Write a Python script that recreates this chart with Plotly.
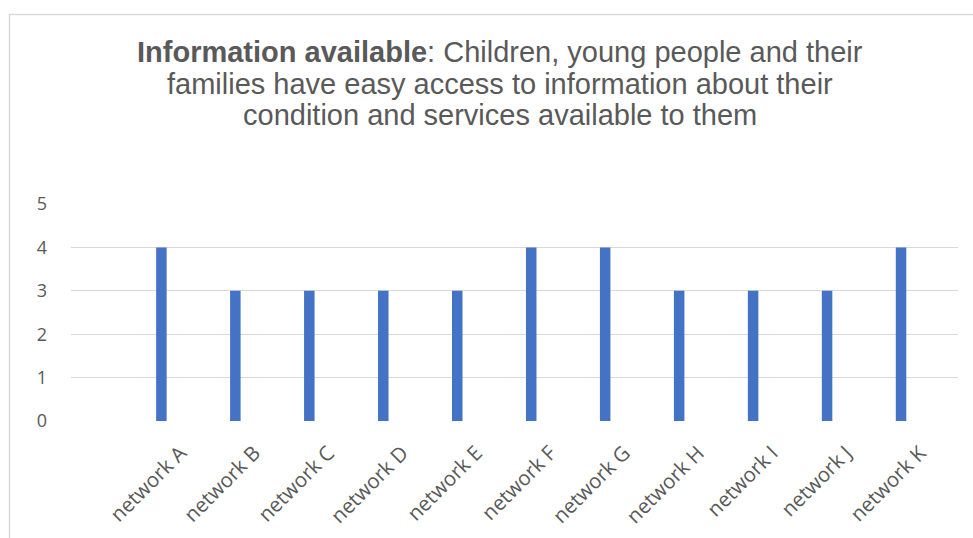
import plotly.graph_objects as go

categories = ["network A", "network B", "network C", "network D", "network E",
              "network F", "network G", "network H", "network I", "network J", "network K"]
values = [4, 3, 3, 3, 3, 4, 4, 3, 3, 3, 4]
y_ticks = [0, 1, 2, 3, 4, 5]
title_lines = [
    "<b>Information available</b>: Children, young people and their",
    "families have easy access to information about their",
    "condition and services available to them",
]

W, H = 973, 538
L, R, T, B = 71, 15, 204, 117
pw = W - L - R
ph = H - T - B

def px_x(p):
    return (p - L) / pw

def px_y(p):
    return (H - B - p) / ph

fig = go.Figure()
fig.add_trace(go.Bar(
    x=categories, y=values, width=0.142,
    marker=dict(color="#4472c4", line=dict(width=0)),
    hoverinfo="x+y",
))

annotations = []
for i, line in enumerate(title_lines):
    annotations.append(dict(
        text=line, xref="paper", yref="paper",
        x=px_x(499.5), y=px_y(52 + 31.7 * i),
        xanchor="center", yanchor="middle", showarrow=False,
        font=dict(family="Liberation Sans, Arial, sans-serif", size=29, color="#595959"),
    ))

fig.update_layout(
    width=W, height=H,
    margin=dict(l=L, r=R, t=T, b=B, pad=0, autoexpand=False),
    paper_bgcolor="white", plot_bgcolor="white",
    showlegend=False,
    annotations=annotations,
    xaxis=dict(
        type="category",
        range=[-1.222, 10.77],
        tickangle=-45,
        tickfont=dict(family="Open Sans, sans-serif", size=20.5, color="#595959"),
        showgrid=False, zeroline=False, showline=False, ticks="",
        ticklabelstandoff=15, ticklabelshift=19,
        automargin=False,
        fixedrange=True,
    ),
    yaxis=dict(
        range=[0, 5],
        tickvals=y_ticks,
        tickfont=dict(family="Open Sans, sans-serif", size=18, color="#595959"),
        showgrid=True, gridcolor="#d9d9d9", gridwidth=1.3,
        zeroline=False, showline=False, ticks="",
        ticklabelstandoff=23,
        automargin=False,
        fixedrange=True,
    ),
    shapes=[dict(
        type="rect", xref="paper", yref="paper",
        x0=px_x(9.5), x1=px_x(1000), y0=px_y(600), y1=px_y(14.5),
        line=dict(color="#d9d9d9", width=1.5), fillcolor="rgba(0,0,0,0)", layer="below",
    )],
)

fig.write_html(
    "out.html",
    config={"displayModeBar": False},
    post_script="document.body.style.margin='0px';document.body.style.overflow='hidden';",
)
